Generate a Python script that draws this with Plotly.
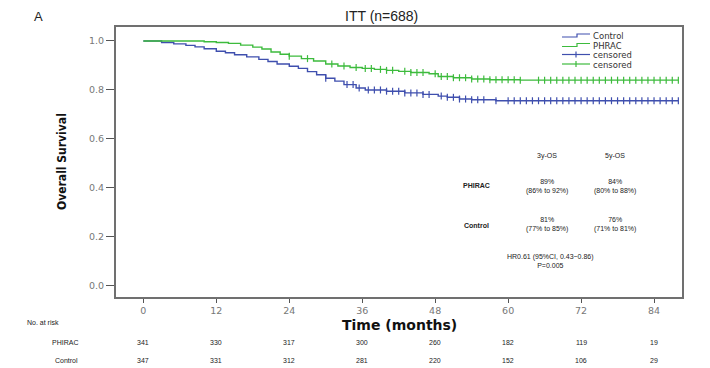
import numpy as np
import plotly.graph_objects as go

# ---------------- data ----------------
control_times = [0, 3, 5, 7, 8.5, 10, 12, 13.5, 15, 17, 19, 20.5, 22, 24, 25.5, 27, 28.5, 30,
                 31.5, 33, 35, 36.5, 40, 43, 46, 48.5, 50, 52, 54, 58, 88]
control_surv = [1.0, 0.994, 0.988, 0.982, 0.976, 0.968, 0.958, 0.952, 0.944, 0.935, 0.925, 0.916,
                0.906, 0.897, 0.888, 0.875, 0.862, 0.848, 0.836, 0.822, 0.808, 0.800, 0.795,
                0.788, 0.782, 0.775, 0.770, 0.763, 0.760, 0.756, 0.756]
phirac_times = [0, 10, 12, 14, 16, 18, 19.5, 21, 22.5, 24, 26, 28, 30, 32, 34, 36, 38, 40, 42,
                44, 47, 48.5, 51, 54, 57, 62, 88]
phirac_surv = [1.0, 0.997, 0.994, 0.990, 0.983, 0.975, 0.967, 0.955, 0.946, 0.938, 0.928, 0.918,
               0.906, 0.898, 0.892, 0.888, 0.884, 0.880, 0.876, 0.871, 0.866, 0.855, 0.850,
               0.845, 0.842, 0.840, 0.840]

control_censor = [30, 33.5, 34.5, 35.5, 37, 38, 39, 40, 41, 42, 43, 44, 45, 46, 47, 49, 50, 51,
                  52, 53, 54, 55, 56, 58, 60, 61, 62, 63, 64, 65, 66, 67, 68, 69, 70, 71, 72, 73,
                  74, 75, 76, 77, 78, 79, 80, 81, 82, 83, 84, 85, 86, 87, 88]
phirac_censor = [24, 27, 31, 33, 35, 36.5, 37.5, 39, 40, 41, 43, 44, 45, 46, 48, 49, 50, 51, 52,
                 53, 54, 55, 56, 57, 58, 59, 60, 61, 62, 65, 66, 67, 68, 69, 70, 71, 72, 73, 74,
                 75, 76, 77, 78, 79, 80, 81, 82, 83, 84, 85, 86, 87, 88]

tick_months = [0, 12, 24, 36, 48, 60, 72, 84]
risk_phirac = [341, 330, 317, 300, 260, 182, 119, 19]
risk_control = [347, 331, 312, 281, 220, 152, 106, 29]

os_headers = ["3y-OS", "5y-OS"]
os_phirac = ["89%<br>(86% to 92%)", "84%<br>(80% to 88%)"]
os_control = ["81%<br>(77% to 85%)", "76%<br>(71% to 81%)"]
hr_text = "HR0.61 (95%CI, 0.43~0.86)<br>P=0.005"

BLUE = "#3f4fae"
GREEN = "#3dbb3d"

# ---------------- layout geometry ----------------
OFF = 8  # page body margin of the html page
W, H = 710 - OFF, 368 - OFF
L, R, T, B = 116 - OFF, 682 - OFF, 27 - OFF, 297 - OFF


def px(x):
    return (x - OFF - L) / (R - L)


def py(y):
    return (B - (y - OFF)) / (B - T)


def surv_at(times, surv, t):
    idx = np.searchsorted(np.asarray(times), np.asarray(t), side="right") - 1
    return np.asarray(surv)[idx]


fig = go.Figure()
for times, surv, col in [(control_times, control_surv, BLUE), (phirac_times, phirac_surv, GREEN)]:
    fig.add_trace(go.Scatter(x=times, y=surv, mode="lines", line=dict(color=col, width=1.4, shape="hv"),
                             showlegend=False, hoverinfo="skip"))
for times, surv, cens, col in [(control_times, control_surv, control_censor, BLUE),
                               (phirac_times, phirac_surv, phirac_censor, GREEN)]:
    fig.add_trace(go.Scatter(x=cens, y=surv_at(times, surv, cens), mode="markers",
                             marker=dict(symbol="line-ns-open", size=5, color=col,
                                         line=dict(color=col, width=1.2)),
                             showlegend=False, hoverinfo="skip"))

ann = []
font_small = dict(family="Liberation Sans, Arial", size=7, color="#222")


def add(text, x, y, font, xref="paper", xanchor="center", **kw):
    ann.append(dict(text=text, x=x, y=y, xref=xref, yref="paper", xanchor=xanchor,
                    yanchor="middle", showarrow=False, font=font, **kw))


# title and panel letter
add("ITT (n=688)", px(381), py(16.5), dict(family="Liberation Sans, Arial", size=14, color="#222"))
add("A", px(38), py(16.5), dict(family="Liberation Sans, Arial", size=13, color="#222"))
# axis titles
add("<b>Overall Survival</b>", px(62), py(162),
    dict(family="Liberation Sans Narrow, DejaVu Sans Condensed", size=12, color="#111"), textangle=-90)
add("<b>Time (months)</b>", px(399), py(325), dict(family="DejaVu Sans", size=14, color="#111"))
# OS table
for i, hx in enumerate([547, 615]):
    add(os_headers[i], px(hx), py(156), font_small)
    add(os_phirac[i], px(hx), py(186), font_small)
    add(os_control[i], px(hx), py(224), font_small)
add("<b>PHIRAC</b>", px(476), py(185), font_small)
add("<b>Control</b>", px(476), py(225), font_small)
add(hr_text, px(550), py(261), font_small)
# at-risk table
add("No. at risk", px(25), py(322), font_small, xanchor="left")
add("PHIRAC", px(65), py(342), font_small)
add("Control", px(66), py(360), font_small)
for m, a, c in zip(tick_months, risk_phirac, risk_control):
    add(str(a), m, py(342), font_small, xref="x")
    add(str(c), m, py(360), font_small, xref="x")

# manual legend
leg_names = ["Control", "PHRAC", "censored", "censored"]
leg_cols = [BLUE, GREEN, BLUE, GREEN]
leg_rows = [35.5, 45, 54.5, 64]
shapes = []
for i, (nm, col, ry) in enumerate(zip(leg_names, leg_cols, leg_rows)):
    add(nm, px(592), py(ry), dict(family="DejaVu Sans", size=8.5, color="#333"), xanchor="left",
        height=9, borderpad=0)
    if i < 2:
        path = (f"M {px(562)},{py(ry + 1.5)} L {px(577)},{py(ry + 1.5)} L {px(577)},{py(ry - 1.5)} "
                f"L {px(590)},{py(ry - 1.5)}")
        shapes.append(dict(type="path", path=path, xref="paper", yref="paper",
                           line=dict(color=col, width=1.2)))
    else:
        shapes.append(dict(type="line", x0=px(562), x1=px(590), y0=py(ry), y1=py(ry),
                           xref="paper", yref="paper", line=dict(color=col, width=1.2)))
        shapes.append(dict(type="line", x0=px(576), x1=px(576), y0=py(ry - 3), y1=py(ry + 3),
                           xref="paper", yref="paper", line=dict(color=col, width=1.2)))

axis_common = dict(showgrid=False, zeroline=False, showline=True, linecolor="#707070", linewidth=2,
                   mirror=True, ticks="outside", tickcolor="#555", tickwidth=1,
                   tickfont=dict(family="DejaVu Sans", size=9.5, color="#777"))

fig.update_layout(
    width=W, height=H,
    margin=dict(l=L, r=W - R, t=T, b=H - B),
    paper_bgcolor="white", plot_bgcolor="white",
    showlegend=False,
    xaxis=dict(range=[-4.5, 88.6], tickvals=tick_months, ticklen=4, **axis_common),
    yaxis=dict(range=[-0.045, 1.057], tickvals=[0, 0.2, 0.4, 0.6, 0.8, 1.0], tickformat=".1f",
               ticklen=8, **axis_common),
    annotations=ann,
    shapes=shapes,
)

fig.write_html("out.html")
